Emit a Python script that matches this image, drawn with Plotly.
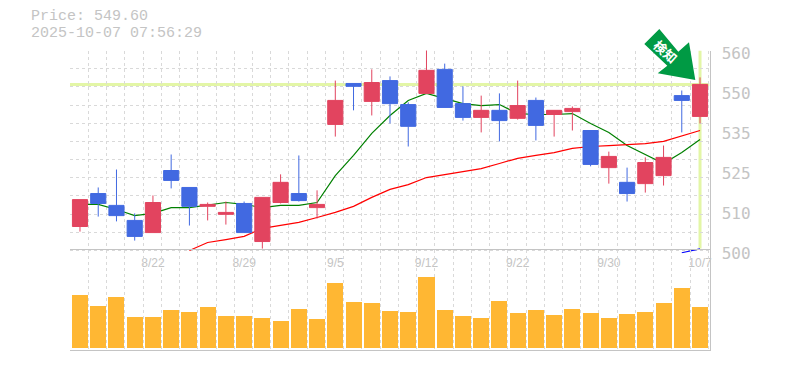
import plotly.graph_objects as go

title_lines = ["Price: 549.60", "2025-10-07 07:56:29"]
tick_idx = [4, 9, 14, 19, 24, 29, 34]
tick_dates = ["8/22", "8/29", "9/5", "9/12", "9/22", "9/30", "10/7"]
price_ticks = [500, 512.5, 525, 537.5, 550, 562.5]
price_tick_text = ["500", "510", "525", "535", "550", "560"]

opens = [507.5, 517.8, 514.1, 509.4, 505.6, 525.0, 519.7, 513.8, 511.3, 514.7, 502.8, 515.0,
         517.8, 513.4, 539.4, 552.2, 546.6, 553.1, 545.6, 549.1, 556.6, 545.9, 541.6, 543.8,
         541.3, 546.9, 542.5, 543.4, 537.5, 525.9, 521.3, 520.9, 523.4, 548.4, 541.9]
highs = [515.9, 519.7, 525.3, 511.6, 517.2, 530.0, 519.7, 515.0, 515.3, 515.3, 516.6, 523.8,
         529.7, 518.8, 553.1, 552.2, 556.6, 554.4, 546.3, 562.8, 558.4, 551.3, 548.4, 549.1,
         553.1, 547.8, 543.8, 545.0, 537.5, 530.9, 525.9, 529.1, 532.8, 550.0, 554.1]
lows = [505.9, 510.6, 509.1, 503.1, 505.6, 519.4, 507.8, 509.4, 508.1, 505.6, 500.6, 514.7,
        515.3, 510.0, 535.6, 543.8, 542.2, 539.7, 532.5, 549.1, 544.7, 540.6, 536.9, 534.1,
        540.9, 534.4, 535.6, 537.5, 526.3, 520.9, 515.3, 518.1, 520.3, 536.9, 539.7]
closes = [515.9, 514.7, 510.9, 504.4, 515.0, 521.9, 513.8, 514.4, 511.9, 505.6, 516.6, 521.3,
          515.6, 514.4, 546.9, 551.3, 552.5, 545.9, 538.8, 556.3, 544.7, 541.6, 543.8, 540.6,
          545.3, 539.1, 543.8, 544.4, 526.9, 529.4, 517.8, 527.5, 529.1, 546.9, 551.9]
ma_short = [514.4, 514.4, 512.8, 510.9, 511.6, 513.4, 513.4, 514.1, 515.0, 514.4, 513.4, 514.1,
            514.1, 515.0, 523.4, 529.7, 536.6, 542.2, 546.9, 549.1, 547.5, 545.9, 545.3, 545.6,
            542.8, 542.5, 542.5, 542.8, 539.7, 536.9, 532.8, 530.0, 527.2, 530.6, 534.7]
ma_mid = [None, None, None, None, None, None, 500.0, 502.5, 503.4, 504.4, 506.9, 507.8,
          508.8, 510.3, 511.9, 513.8, 516.6, 519.1, 520.6, 522.8, 523.8, 524.7, 525.6, 527.2,
          528.8, 529.7, 530.6, 531.9, 532.5, 532.8, 533.1, 533.4, 534.1, 535.9, 537.5]
ma_long = [None] * 33 + [499.3, 500.5]
volumes = [53, 42, 51, 31, 31, 38, 36, 41, 32, 32, 30, 27, 39, 29, 65, 46, 45, 37,
           36, 71, 38, 32, 30, 47, 35, 38, 33, 39, 35, 30, 34, 36, 45, 60, 41]

x = list(range(len(closes)))
W, H = 785, 370
GREY = "#c4c4c4"
GRID = "#d9d9d9"
UP = "#e2445f"
DOWN = "#4169e1"
HL = "#e3f6a6"
MONO = "DejaVu Sans Mono"


def px(v):
    return f"{v / W:.5f}"


def py(v):
    return f"{1 - v / H:.5f}"


dom_x = [70 / W, 709.5 / W]
x_range = [-0.548, 34.52]
price_range = [500 - 3.0 / 3.2, 562.5]
dom_y = [1 - 253.5 / H, 1 - 50.5 / H]
dom_y2 = [1 - 350 / H, 1 - 250 / H]

minor_x = dict(tick0=-0.54, dtick=1, showgrid=True, gridcolor=GRID, griddash="3px,3px",
               gridwidth=1, ticks="")

fig = go.Figure()
fig.add_trace(go.Bar(x=x, y=volumes, xaxis="x2", yaxis="y2", marker=dict(color="#ffb733", line_width=0),
                     width=0.88, showlegend=False))
fig.add_trace(go.Scatter(x=x, y=ma_short, mode="lines", line=dict(color="#008000", width=1.2), showlegend=False))
fig.add_trace(go.Scatter(x=x, y=ma_mid, mode="lines", line=dict(color="#ff0000", width=1.2), showlegend=False))
fig.add_trace(go.Scatter(x=x, y=ma_long, mode="lines", line=dict(color="#0000ff", width=1.2), showlegend=False))
fig.add_trace(go.Candlestick(x=x, open=opens, high=highs, low=lows, close=closes, yaxis="y3",
                             increasing=dict(line=dict(color=UP, width=1), fillcolor=UP),
                             decreasing=dict(line=dict(color=DOWN, width=1), fillcolor=DOWN),
                             whiskerwidth=0, showlegend=False))

arrow = [(659.3, 29), (644.3, 44), (667.3, 65.7), (657.7, 73.3), (695.3, 80), (689, 42.3), (678.3, 51.7)]
arrow_path = "M " + " L ".join(f"{px(a)} {py(b)}" for a, b in arrow) + " Z"

fig.update_layout(
    template="none",
    width=W, height=H, autosize=False, margin=dict(l=0, r=0, t=0, b=0, pad=0),
    paper_bgcolor="white", plot_bgcolor="rgba(0,0,0,0)", boxgap=0.17, boxgroupgap=0, bargap=0,
    hovermode=False,
    xaxis=dict(domain=dom_x, range=x_range, anchor="y", showgrid=False, zeroline=False, automargin=False,
               showline=False, tickmode="array", tickvals=tick_idx, ticktext=tick_dates, ticks="",
               tickfont=dict(family="Liberation Sans", size=12, color=GREY), ticklabelstandoff=0,
               minor=minor_x, rangeslider=dict(visible=False)),
    xaxis2=dict(domain=dom_x, range=x_range, anchor="y2", showgrid=False, zeroline=False, automargin=False,
                showline=True, mirror=True, linecolor=GREY, linewidth=1, showticklabels=False, ticks="",
                tickmode="array", tickvals=tick_idx, minor=minor_x),
    yaxis=dict(domain=dom_y, range=price_range, anchor="x", side="right", showgrid=False, zeroline=False,
               automargin=False, showline=True, linecolor=GREY, linewidth=1, tickmode="array",
               tickvals=price_ticks, ticktext=price_tick_text, ticks="", ticklabelstandoff=8,
               ticklabelshift=3,
               tickfont=dict(family=MONO, size=16, color=GREY),
               minor=dict(tick0=500, dtick=62.5 / 11, showgrid=True, gridcolor=GRID, griddash="3px,3px",
                          gridwidth=1, ticks="")),
    yaxis2=dict(domain=dom_y2, range=[-2, 98], anchor="x2", side="right", showgrid=False, zeroline=False,
                automargin=False, showline=True, linecolor=GREY, linewidth=1, showticklabels=False, ticks=""),
    yaxis3=dict(range=price_range, overlaying="y", side="right", visible=False, anchor="x", automargin=False),
    shapes=[
        dict(type="line", xref="x", yref="y", x0=x_range[0], x1=x_range[1], y0=closes[-1], y1=closes[-1],
             line=dict(color=HL, width=3), layer="below"),
        dict(type="line", xref="x", yref="y", x0=x[-1], x1=x[-1], y0=500.6, y1=562.5,
             line=dict(color=HL, width=3), layer="below"),
        dict(type="path", xref="paper", yref="paper", path=arrow_path,
             fillcolor="#009a44", line_width=0, layer="above"),
    ],
    annotations=[
        dict(xref="paper", yref="paper", x=29.5 / W, y=1 - 17 / H, text=title_lines[0], showarrow=False,
             xanchor="left", yanchor="middle", borderpad=0, font=dict(family="Liberation Mono", size=15, color=GREY)),
        dict(xref="paper", yref="paper", x=29.5 / W, y=1 - 34 / H, text=title_lines[1], showarrow=False,
             xanchor="left", yanchor="middle", borderpad=0, font=dict(family="Liberation Mono", size=15, color=GREY)),
        dict(xref="paper", yref="paper", x=666 / W, y=1 - 51 / H, text="<b>検知</b>", showarrow=False,
             xanchor="center", yanchor="middle", borderpad=0,
             textangle=42, font=dict(family="Noto Sans CJK JP", size=13, color="white")),
    ],
)

fig.write_html("out.html", config=dict(displayModeBar=False),
               post_script="document.body.style.margin='0';document.body.style.overflow='hidden';")
